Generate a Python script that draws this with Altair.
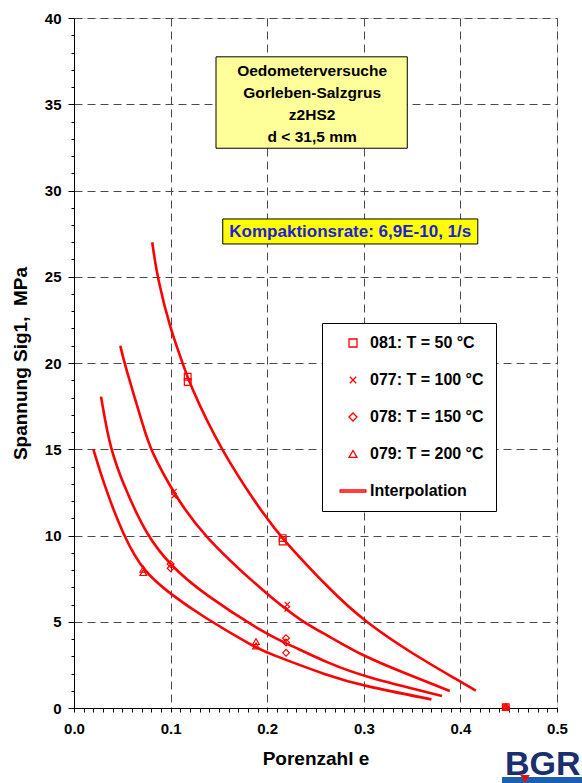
import altair as alt
import pandas as pd

# ---------------- data ----------------
SERIES = ["081: T = 50 °C", "077: T = 100 °C", "078: T = 150 °C", "079: T = 200 °C"]
LINE_LABEL = "Interpolation"

# interpolation curves (Porenzahl e, Spannung MPa)
CURVE_50_X = [0.081, 0.086, 0.100, 0.112, 0.118, 0.151, 0.200, 0.216, 0.265, 0.301, 0.350, 0.400, 0.416]
CURVE_50_Y = [27.0, 25.0, 21.9, 20.1, 19.0, 15.0, 10.9, 9.8, 6.84, 5.0, 3.15, 1.53, 1.0]
CURVE_100_X = [0.048, 0.052, 0.0735, 0.079, 0.1035, 0.133, 0.200, 0.236, 0.265, 0.300, 0.350, 0.389]
CURVE_100_Y = [21.0, 20.0, 16.0, 15.0, 12.4, 10.0, 6.55, 5.0, 4.13, 2.98, 1.85, 0.99]
CURVE_150_X = [0.028, 0.0373, 0.053, 0.0752, 0.100, 0.133, 0.200, 0.220, 0.265, 0.300, 0.381]
CURVE_150_Y = [18.05, 15.0, 12.7, 10.0, 8.25, 6.65, 4.23, 3.75, 2.55, 1.82, 0.70]
CURVE_200_X = [0.020, 0.032, 0.051, 0.0718, 0.100, 0.133, 0.188, 0.200, 0.265, 0.300, 0.370]
CURVE_200_Y = [15.0, 12.8, 10.0, 7.9, 6.6, 5.3, 3.5, 3.2, 1.82, 1.28, 0.5]

# measured points
P081_X = [0.1177, 0.1177, 0.216, 0.216, 0.447]
P081_Y = [19.2, 18.9, 9.85, 9.65, 0.05]
P077_X = [0.1035, 0.1035, 0.2208, 0.2208, 0.447]
P077_Y = [12.55, 12.3, 6.0, 5.75, 0.05]
P078_X = [0.100, 0.100, 0.2195, 0.2195, 0.2195, 0.447]
P078_Y = [8.35, 8.1, 4.05, 3.8, 3.2, 0.05]
P079_X = [0.0718, 0.0718, 0.1884, 0.1884, 0.447]
P079_Y = [8.05, 7.85, 3.85, 3.6, 0.05]

# axis ticks
X_TICKS = [round(i * 0.01, 2) for i in range(51)]
Y_TICKS = list(range(0, 41))

# annotation texts
INFO_LINES = ["Oedometerversuche", "Gorleben-Salzgrus", "z2HS2", "d < 31,5 mm"]
RATE_TEXT = "Kompaktionsrate: 6,9E-10, 1/s"
AXIS_X_TITLE = "Porenzahl e"
AXIS_Y_TITLE = "Spannung Sig1,\u00a0 MPa"

# ---------------- tables ----------------
curves = []
for name, xs, ys in [("50", CURVE_50_X, CURVE_50_Y), ("100", CURVE_100_X, CURVE_100_Y),
                     ("150", CURVE_150_X, CURVE_150_Y), ("200", CURVE_200_X, CURVE_200_Y)]:
    for x, y in zip(xs, ys):
        curves.append({"curve": name, "e": x, "sig": y})
curves = pd.DataFrame(curves)

pts = []
for s, xs, ys in zip(SERIES, [P081_X, P077_X, P078_X, P079_X], [P081_Y, P077_Y, P078_Y, P079_Y]):
    for x, y in zip(xs, ys):
        pts.append({"series": s, "e": x, "sig": y})
pts = pd.DataFrame(pts)

# annotation boxes placed in data units
boxes = pd.DataFrame([
    {"e": 0.147, "e2": 0.345, "sig": 32.45, "sig2": 37.75, "fill": "#FFFF99"},
    {"e": 0.154, "e2": 0.418, "sig": 26.9, "sig2": 28.35, "fill": "#FFFF00"},
])
info = pd.DataFrame({"e": [0.2465] * 4, "sig": [36.9, 35.65, 34.35, 33.1], "t": INFO_LINES})
rate = pd.DataFrame({"e": [0.286], "sig": [27.62], "t": [RATE_TEXT]})

FONT = "Liberation Sans"
RED = "#FF0000"
major_x = "abs(datum.value*10 - round(datum.value*10)) < 0.001"
major_y = "datum.value % 5 === 0"

xscale = alt.Scale(domain=[0, 0.5], nice=False, zero=False)
yscale = alt.Scale(domain=[0, 40], nice=False)

common_axis = dict(
    labelFont=FONT, labelFontSize=15, labelFontWeight="bold", labelColor="black",
    titleFont=FONT, titleFontSize=19, titleFontWeight="bold", titleColor="black",
    domainColor="black", tickColor="black", gridColor="#4A4A4A", gridDash=[8, 5], gridWidth=1,
    labelOverlap=False, labelFlush=False, grid=True, ticks=True,
)

x_axis = alt.Axis(
    values=X_TICKS, title=AXIS_X_TITLE,
    labelExpr=f"({major_x}) ? format(datum.value, '.1f') : ''",
    gridOpacity={"condition": {"test": major_x, "value": 1}, "value": 0},
    tickSize=4, labelPadding=9, titlePadding=13, **common_axis,
)
y_axis = alt.Axis(
    values=Y_TICKS, title=AXIS_Y_TITLE,
    labelExpr=f"({major_y}) ? format(datum.value, 'd') : ''",
    gridOpacity={"condition": {"test": major_y, "value": 1}, "value": 0},
    tickSize={"condition": {"test": major_y, "value": 6}, "value": 3},
    labelPadding=7, titlePadding=14, **common_axis,
)

X = alt.X("e:Q", scale=xscale, axis=x_axis)
Y = alt.Y("sig:Q", scale=yscale, axis=y_axis)

box_layer = alt.Chart(boxes).mark_rect(stroke="black", strokeWidth=1).encode(
    x=X, x2="e2:Q", y=Y, y2="sig2:Q",
    fill=alt.Fill("fill:N", scale=None),
)

info_layer = alt.Chart(info).mark_text(
    font=FONT, fontSize=15.5, fontWeight="bold", color="black", align="center", baseline="middle"
).encode(x=X, y=Y, text="t:N")

rate_layer = alt.Chart(rate).mark_text(
    font=FONT, fontSize=17, fontWeight="bold", color="#2020D8", align="center", baseline="middle"
).encode(x=X, y=Y, text="t:N")

line_layer = alt.Chart(curves).mark_line(
    color=RED, strokeWidth=2.6, interpolate="basis"
).encode(x=X, y=Y, detail="curve:N")

shape_domain = SERIES + [LINE_LABEL]
shape_range = [
    "square",
    "M-0.8,-0.8L0.8,0.8M-0.8,0.8L0.8,-0.8",
    "diamond",
    "triangle-up",
    "M-3.2,-0.25L3.2,-0.25L3.2,0.25L-3.2,0.25Z",
]

point_layer = alt.Chart(pts).mark_point(
    filled=False, color=RED, strokeWidth=1.2, size=45, opacity=1
).encode(
    x=X, y=Y,
    shape=alt.Shape(
        "series:N",
        scale=alt.Scale(domain=shape_domain, range=shape_range),
        legend=alt.Legend(
            orient="none", legendX=248, legendY=305, title=None,
            labelFont=FONT, labelFontSize=16, labelFontWeight="bold", labelColor="black",
            symbolSize=64, symbolStrokeWidth=1.3, symbolStrokeColor=RED, symbolOpacity=1,
            symbolOffset=11, labelOffset=9, rowPadding=21, padding=12,
            strokeColor="black", fillColor="white", labelLimit=300,
        ),
    ),
)

# BGR logo in the bottom right corner
logo = pd.DataFrame({"t": ["BGR"]})
logo_text = alt.Chart(logo).mark_text(
    font=FONT, fontSize=34, fontWeight="bold", color="#1B2F6E", align="left", baseline="alphabetic"
).encode(x=alt.value(431), y=alt.value(757), text="t:N")
logo_band = alt.Chart(logo).mark_rect(color="#1E5FB0").encode(
    x=alt.value(428), x2=alt.value(520), y=alt.value(759), y2=alt.value(770)
)
logo_v = alt.Chart(logo).mark_point(
    shape="triangle-down", filled=True, color="#E01010", size=90, opacity=1
).encode(x=alt.value(451), y=alt.value(761))

chart = alt.layer(
    box_layer, info_layer, rate_layer, line_layer, point_layer, logo_band, logo_v, logo_text
).properties(
    width=483, height=690,
    autosize=alt.AutoSizeParams(type="none"),
    padding={"left": 74, "top": 18, "right": 25, "bottom": 75},
).configure_view(
    stroke="black", strokeWidth=1
).configure(background="white")

chart.save("out.html", embed_options={"renderer": "svg", "actions": False})
